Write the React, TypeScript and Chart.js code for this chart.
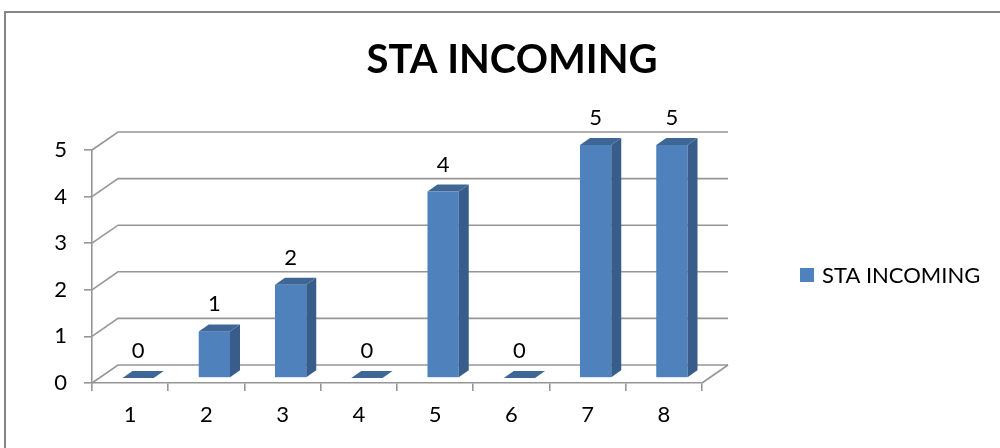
import React, { useEffect, useRef } from 'react';
import { Chart, registerables } from 'chart.js';

Chart.register(...registerables);

const titleText = 'STA INCOMING';
const seriesName = 'STA INCOMING';
const categories = ['1', '2', '3', '4', '5', '6', '7', '8'];
const values = [0, 1, 2, 0, 4, 0, 5, 5];
const yMin = 0;
const yMax = 5;
const yStep = 1;

const FONT = 'Lato, "Open Sans", "Liberation Sans", sans-serif';
const GRID = '#969696';
const BACK = { dx: 26, dy: -18 };
const BAR = { dx: 8, dy: -5 };
const DEPTH = { dx: 10, dy: -7 };
const FRONT_C = '#4f81bd';
const SIDE_C = '#385d8a';
const TOP_C = '#3e6796';

const threeD = {
  id: 'threeD',
  beforeDraw(chart: any) {
    const { ctx, chartArea: a, scales } = chart;
    const y = scales.y;
    ctx.save();
    ctx.fillStyle = '#ffffff';
    ctx.fillRect(0, 0, chart.width, chart.height);
    // outer frame
    ctx.strokeStyle = '#868686';
    ctx.lineWidth = 2;
    ctx.strokeRect(5, 12, chart.width + 20, chart.height + 20);
    // back wall gridlines + side diagonals
    ctx.strokeStyle = GRID;
    ctx.lineWidth = 1.6;
    y.ticks.forEach((t: any) => {
      const py = y.getPixelForValue(t.value);
      ctx.beginPath();
      ctx.moveTo(a.left, py);
      ctx.lineTo(a.left + BACK.dx, py + BACK.dy);
      ctx.lineTo(a.right + BACK.dx, py + BACK.dy);
      ctx.stroke();
    });
    // floor right edge
    ctx.beginPath();
    ctx.moveTo(a.right, a.bottom);
    ctx.lineTo(a.right + BACK.dx, a.bottom + BACK.dy);
    ctx.stroke();
    // title
    ctx.fillStyle = '#000';
    ctx.font = `bold 40px ${FONT}`;
    ctx.textAlign = 'center';
    ctx.textBaseline = 'alphabetic';
    ctx.fillText(titleText, 512, 73);
    ctx.restore();
  },
  afterDatasetsDraw(chart: any) {
    const { ctx } = chart;
    const meta = chart.getDatasetMeta(0);
    const data = chart.data.datasets[0].data;
    ctx.save();
    meta.data.forEach((bar: any, i: number) => {
      const p = bar.getProps(['x', 'y', 'base', 'width'], true);
      const l = p.x - p.width / 2 + BAR.dx;
      const r = p.x + p.width / 2 + BAR.dx;
      const top = p.y + BAR.dy;
      const bot = p.base + BAR.dy;
      if (bot - top > 0.5) {
        ctx.fillStyle = FRONT_C;
        ctx.fillRect(l, top, r - l, bot - top);
        ctx.fillStyle = SIDE_C;
        ctx.beginPath();
        ctx.moveTo(r, top);
        ctx.lineTo(r + DEPTH.dx, top + DEPTH.dy);
        ctx.lineTo(r + DEPTH.dx, bot + DEPTH.dy);
        ctx.lineTo(r, bot);
        ctx.closePath();
        ctx.fill();
      }
      ctx.fillStyle = TOP_C;
      ctx.beginPath();
      ctx.moveTo(l, top);
      ctx.lineTo(l + DEPTH.dx, top + DEPTH.dy);
      ctx.lineTo(r + DEPTH.dx, top + DEPTH.dy);
      ctx.lineTo(r, top);
      ctx.closePath();
      ctx.fill();
      // data label
      ctx.fillStyle = '#000';
      ctx.font = `22px ${FONT}`;
      ctx.textAlign = 'center';
      ctx.textBaseline = 'middle';
      ctx.fillText(String(data[i]), (l + r) / 2, top - 27);
    });
    ctx.restore();
  },
  afterDraw(chart: any) {
    const { ctx } = chart;
    ctx.save();
    ctx.fillStyle = FRONT_C;
    ctx.fillRect(800, 268, 14, 14);
    ctx.fillStyle = '#000';
    ctx.font = `22px ${FONT}`;
    ctx.textAlign = 'left';
    ctx.textBaseline = 'middle';
    ctx.fillText(chart.data.datasets[0].label, 822, 276);
    ctx.restore();
  },
};

export default function App() {
  const ref = useRef<HTMLCanvasElement>(null);
  useEffect(() => {
    document.body.style.margin = '0';
    const canvas = ref.current;
    if (!canvas) return;
    const chart = new Chart(canvas, {
      type: 'bar',
      data: {
        labels: categories,
        datasets: [
          {
            label: seriesName,
            data: values,
            backgroundColor: 'rgba(0,0,0,0)',
            borderWidth: 0,
            barPercentage: 0.41,
            categoryPercentage: 1,
          },
        ],
      },
      options: {
        animation: false,
        responsive: false,
        devicePixelRatio: 1,
        layout: { padding: { left: 0, top: 150, right: 298, bottom: 0 } },
        plugins: {
          legend: { display: false },
          title: { display: false },
          tooltip: { enabled: false },
        },
        scales: {
          x: {
            grid: {
              display: true,
              drawOnChartArea: false,
              drawTicks: true,
              tickLength: 8,
              color: GRID,
              lineWidth: 1.6,
              offset: true,
            },
            border: { display: true, color: GRID, width: 1.6 },
            ticks: { font: { family: FONT, size: 22 }, color: '#000', padding: 11 },
            afterFit(s: any) {
              s.height = 65;
            },
          },
          y: {
            min: yMin,
            max: yMax,
            grid: {
              display: true,
              drawOnChartArea: false,
              drawTicks: true,
              tickLength: 8,
              color: GRID,
              lineWidth: 1.6,
            },
            border: { display: true, color: GRID, width: 1.6 },
            ticks: { stepSize: yStep, font: { family: FONT, size: 22 }, color: '#000', padding: 17 },
            afterFit(s: any) {
              s.width = 92;
            },
          },
        },
      },
      plugins: [threeD],
    });
    return () => chart.destroy();
  }, []);
  return (
    <div style={{ width: 1000, height: 448 }}>
      <canvas ref={ref} width={1000} height={448} />
    </div>
  );
}
